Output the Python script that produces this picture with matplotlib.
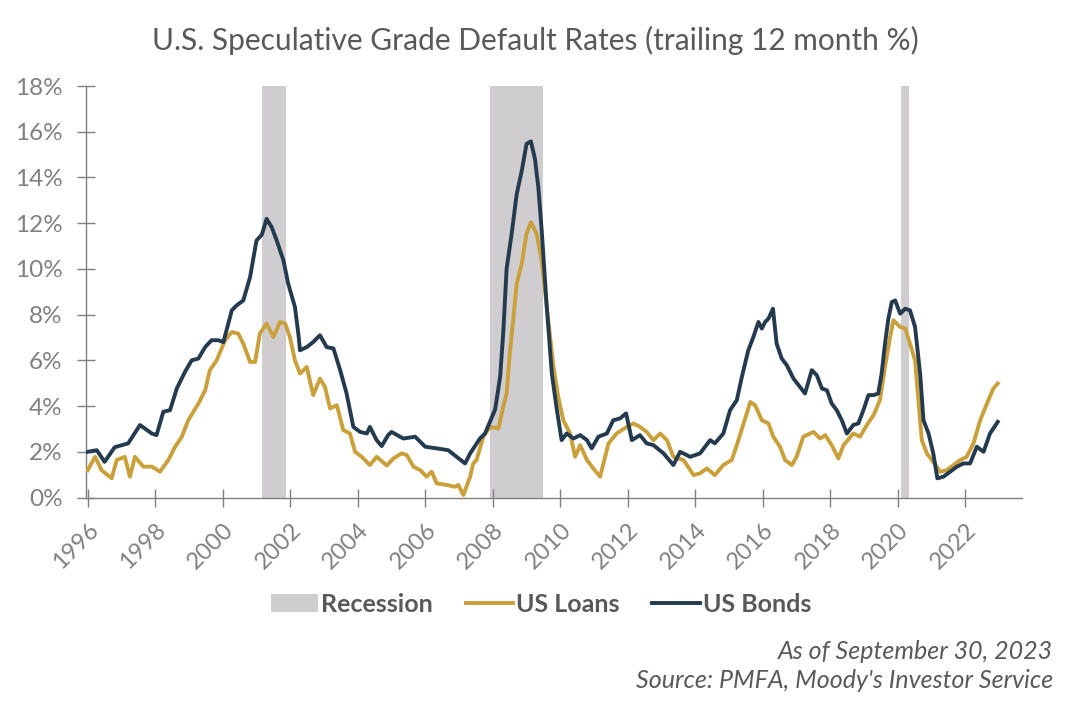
import matplotlib
matplotlib.use("Agg")
import matplotlib.pyplot as plt
from matplotlib.patches import Patch
from matplotlib.lines import Line2D

plt.rcParams['font.family'] = ['Lato', 'DejaVu Sans']

# ---- data ----
bond_years = [1996.00, 1996.27, 1996.50, 1996.80, 1997.20, 1997.55, 1997.90, 1998.04, 1998.24, 1998.44,
              1998.64, 1998.88, 1999.08, 1999.28, 1999.48, 1999.67, 1999.87, 2000.02, 2000.27, 2000.41,
              2000.61, 2000.81, 2001.00, 2001.16, 2001.30, 2001.45, 2001.60, 2001.80, 2001.94, 2002.14,
              2002.24, 2002.29, 2002.49, 2002.68, 2002.88, 2003.08, 2003.28, 2003.48, 2003.67, 2003.87,
              2004.07, 2004.27, 2004.36, 2004.56, 2004.71, 2004.90, 2005.00, 2005.35, 2005.70, 2006.00,
              2006.34, 2006.68, 2006.93, 2007.18, 2007.33, 2007.62, 2007.77, 2008.07, 2008.22, 2008.31,
              2008.41, 2008.56, 2008.71, 2008.86, 2009.00, 2009.13, 2009.25, 2009.35, 2009.45, 2009.60,
              2009.75, 2009.90, 2010.04, 2010.19, 2010.39, 2010.59, 2010.79, 2010.93, 2011.13, 2011.38,
              2011.57, 2011.77, 2011.95, 2012.12, 2012.36, 2012.56, 2012.76, 2013.06, 2013.35, 2013.55,
              2013.85, 2014.14, 2014.44, 2014.58, 2014.83, 2015.03, 2015.23, 2015.38, 2015.57, 2015.72,
              2015.87, 2015.97, 2016.07, 2016.17, 2016.30, 2016.41, 2016.56, 2016.71, 2016.91, 2017.10,
              2017.25, 2017.45, 2017.60, 2017.75, 2017.90, 2018.04, 2018.19, 2018.34, 2018.49, 2018.68,
              2018.83, 2018.98, 2019.13, 2019.28, 2019.42, 2019.52, 2019.62, 2019.72, 2019.82, 2019.92,
              2020.07, 2020.22, 2020.36, 2020.51, 2020.66, 2020.76, 2020.91, 2021.05, 2021.17, 2021.35,
              2021.55, 2021.75, 2021.94, 2022.14, 2022.34, 2022.54, 2022.73, 2022.96]
bond_vals = [2.00, 2.07, 1.56, 2.20, 2.37, 3.17, 2.80, 2.73, 3.75, 3.82,
             4.77, 5.49, 6.00, 6.08, 6.58, 6.88, 6.88, 6.80, 8.19, 8.40,
             8.62, 9.64, 11.24, 11.50, 12.19, 11.83, 11.24, 10.37, 9.35, 8.33,
             7.17, 6.44, 6.58, 6.80, 7.10, 6.58, 6.52, 5.57, 4.55, 3.09,
             2.87, 2.80, 3.09, 2.51, 2.25, 2.73, 2.87, 2.58, 2.66, 2.22,
             2.15, 2.07, 1.78, 1.49, 1.93, 2.58, 2.80, 3.85, 5.30, 7.20,
             10.00, 11.54, 13.28, 14.30, 15.47, 15.58, 14.81, 13.57, 11.68, 8.33,
             5.42, 3.82, 2.51, 2.80, 2.58, 2.73, 2.51, 2.15, 2.66, 2.80,
             3.38, 3.46, 3.68, 2.51, 2.73, 2.37, 2.29, 1.93, 1.42, 2.00,
             1.78, 1.93, 2.51, 2.37, 2.80, 3.82, 4.26, 5.28, 6.44, 7.02,
             7.68, 7.39, 7.68, 7.83, 8.26, 6.73, 6.08, 5.79, 5.20, 4.84,
             4.55, 5.57, 5.35, 4.77, 4.69, 4.11, 3.82, 3.38, 2.80, 3.17,
             3.24, 3.82, 4.48, 4.48, 4.55, 5.42, 6.73, 7.83, 8.55, 8.62,
             8.04, 8.26, 8.19, 7.46, 5.42, 3.38, 2.80, 1.93, 0.84, 0.91,
             1.13, 1.35, 1.49, 1.49, 2.22, 2.00, 2.80, 3.31]

loan_years = [1996.00, 1996.22, 1996.41, 1996.71, 1996.86, 1997.10, 1997.25, 1997.40, 1997.65, 1997.90,
              1998.14, 1998.39, 1998.59, 1998.79, 1998.98, 1999.28, 1999.48, 1999.62, 1999.82, 2000.07,
              2000.27, 2000.46, 2000.61, 2000.81, 2000.96, 2001.10, 2001.30, 2001.50, 2001.70, 2001.85,
              2001.99, 2002.14, 2002.29, 2002.49, 2002.68, 2002.88, 2003.03, 2003.18, 2003.38, 2003.57,
              2003.77, 2003.92, 2004.12, 2004.36, 2004.56, 2004.86, 2005.06, 2005.30, 2005.45, 2005.65,
              2005.85, 2006.04, 2006.19, 2006.34, 2006.64, 2006.88, 2006.98, 2007.13, 2007.33, 2007.42,
              2007.52, 2007.72, 2007.92, 2008.17, 2008.31, 2008.41, 2008.50, 2008.58, 2008.71, 2008.86,
              2009.00, 2009.13, 2009.30, 2009.45, 2009.60, 2009.80, 2009.94, 2010.09, 2010.29, 2010.44,
              2010.59, 2010.79, 2010.98, 2011.18, 2011.28, 2011.43, 2011.67, 2011.97, 2012.17, 2012.36,
              2012.56, 2012.76, 2012.96, 2013.16, 2013.35, 2013.65, 2013.95, 2014.14, 2014.34, 2014.58,
              2014.83, 2015.08, 2015.23, 2015.43, 2015.63, 2015.77, 2015.97, 2016.17, 2016.31, 2016.51,
              2016.66, 2016.86, 2017.00, 2017.20, 2017.50, 2017.70, 2017.85, 2018.04, 2018.24, 2018.39,
              2018.68, 2018.88, 2019.08, 2019.28, 2019.47, 2019.62, 2019.77, 2019.87, 2020.07, 2020.22,
              2020.36, 2020.51, 2020.61, 2020.71, 2020.86, 2021.05, 2021.25, 2021.45, 2021.65, 2021.85,
              2022.04, 2022.24, 2022.44, 2022.64, 2022.83, 2022.96]
loan_vals = [1.20, 1.78, 1.20, 0.84, 1.64, 1.78, 0.91, 1.78, 1.35, 1.35,
             1.13, 1.64, 2.22, 2.66, 3.38, 4.11, 4.69, 5.57, 6.00, 6.88,
             7.24, 7.17, 6.73, 5.93, 5.93, 7.17, 7.61, 7.02, 7.68, 7.61,
             7.02, 6.00, 5.42, 5.71, 4.48, 5.20, 4.84, 3.90, 4.04, 2.95,
             2.80, 2.00, 1.78, 1.42, 1.78, 1.40, 1.71, 1.93, 1.86, 1.35,
             1.20, 0.91, 1.13, 0.62, 0.55, 0.47, 0.55, 0.11, 0.91, 1.49,
             1.64, 2.66, 3.09, 3.02, 3.97, 4.55, 6.20, 7.40, 9.35, 10.23,
             11.54, 12.04, 11.54, 10.37, 8.33, 5.71, 4.40, 3.38, 2.80, 1.78,
             2.29, 1.64, 1.27, 0.91, 1.49, 2.37, 2.80, 3.09, 3.24, 3.09,
             2.87, 2.51, 2.80, 2.51, 1.78, 1.64, 0.98, 1.06, 1.27, 0.98,
             1.42, 1.64, 2.29, 3.24, 4.18, 4.04, 3.38, 3.24, 2.66, 2.22,
             1.64, 1.42, 1.78, 2.66, 2.87, 2.58, 2.73, 2.29, 1.71, 2.29,
             2.80, 2.66, 3.17, 3.60, 4.26, 5.71, 7.02, 7.75, 7.46, 7.39,
             6.73, 6.00, 4.26, 2.51, 1.93, 1.56, 1.13, 1.20, 1.42, 1.64,
             1.78, 2.37, 3.38, 4.11, 4.77, 4.99]

recession_starts = [2001.17, 2007.92, 2020.09]
recession_ends = [2001.88, 2009.50, 2020.33]

y_ticks = [0, 2, 4, 6, 8, 10, 12, 14, 16, 18]
x_ticks = list(range(1996, 2023, 2))

title = "U.S. Speculative Grade Default Rates (trailing 12 month %)"
foot1 = "As of September 30, 2023"
foot2 = "Source: PMFA, Moody's Investor Service"

# ---- styles ----
C_LOAN = '#C9A03A'
C_BOND = '#243A4F'
C_REC = '#CFCDCF'
C_TXT = '#595959'
C_TICK = '#808080'
C_AX = '#7F7F7F'

fig = plt.figure(figsize=(10.71, 7.04), dpi=100)
ax = fig.add_axes([0.0803, 0.2933, 0.874, 0.5845])

for s, e in zip(recession_starts, recession_ends):
    ax.axvspan(s, e, color=C_REC, lw=0, zorder=1)

ax.plot(loan_years, loan_vals, color=C_LOAN, lw=2.8, zorder=3, solid_joinstyle='round')
ax.plot(bond_years, bond_vals, color=C_BOND, lw=2.8, zorder=4, solid_joinstyle='round')

ax.set_xlim(1995.95, 2023.68)
ax.set_ylim(0, 18)
ax.set_yticks(y_ticks)
ax.set_yticklabels([f"{v}%" for v in y_ticks])
ax.set_xticks(x_ticks)
ax.set_xticklabels([str(v) for v in x_ticks], rotation=45, ha='right', rotation_mode='anchor')

for sp in ['top', 'right']:
    ax.spines[sp].set_visible(False)
for sp in ['left', 'bottom']:
    ax.spines[sp].set_color(C_AX)
    ax.spines[sp].set_linewidth(1.0)

ax.tick_params(axis='both', direction='inout', length=13, width=1.0, color=C_AX,
               labelcolor=C_TICK)
ax.tick_params(axis='y', pad=10.5, labelsize=17.5)
ax.tick_params(axis='x', pad=9, labelsize=17)

fig.text(0.5, 0.943, title, ha='center', va='center', fontsize=21.5, color=C_TXT)

handles = [Patch(facecolor=C_REC, edgecolor='none', label='Recession'),
           Line2D([], [], color=C_LOAN, lw=2.8, label='US Loans'),
           Line2D([], [], color=C_BOND, lw=2.8, label='US Bonds')]
leg = fig.legend(handles=handles, loc='center', bbox_to_anchor=(0.505, 0.142), ncol=3,
                 frameon=False, fontsize=18, handlelength=1.9, handletextpad=0.12,
                 columnspacing=1.3)
for t in leg.get_texts():
    t.set_color(C_TXT)
    t.set_fontweight('bold')

fig.text(0.983, 0.075, foot1, ha='right', va='center', fontsize=18, color=C_TXT, fontstyle='italic')
fig.text(0.983, 0.033, foot2, ha='right', va='center', fontsize=18, color=C_TXT, fontstyle='italic')

fig.savefig('out.png', dpi=100)
